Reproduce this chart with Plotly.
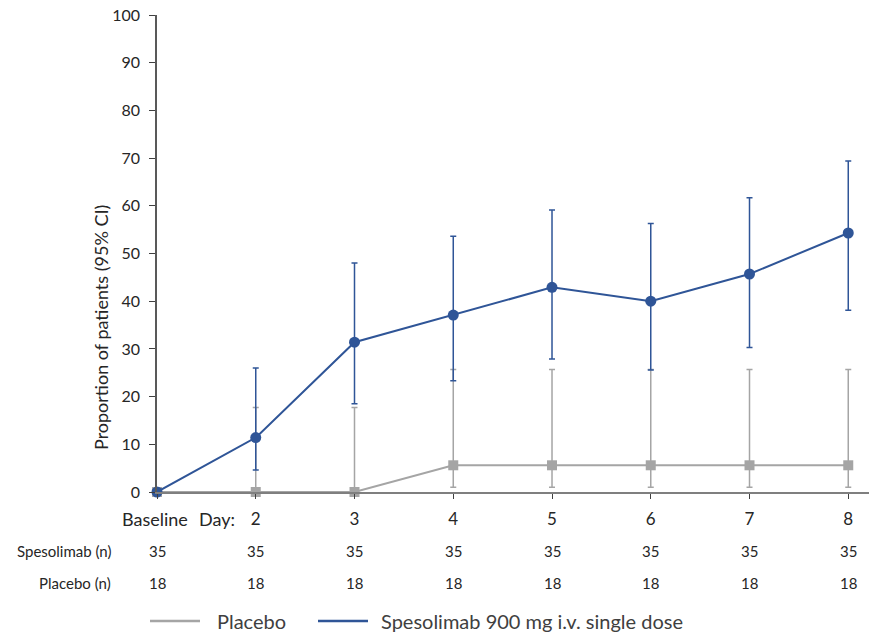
import plotly.graph_objects as go

# ---- data ----
days = [1, 2, 3, 4, 5, 6, 7, 8]          # 1 = Baseline
tick_labels = ["", "2", "3", "4", "5", "6", "7", "8"]

spes_y = [0, 11.4, 31.4, 37.1, 42.9, 40.0, 45.7, 54.3]
spes_hi = [0, 26.0, 48.0, 53.6, 59.1, 56.3, 61.7, 69.4]
spes_lo = [0, 4.6, 18.5, 23.3, 27.9, 25.6, 30.3, 38.1]

plac_y = [0, 0, 0, 5.6, 5.6, 5.6, 5.6, 5.6]
plac_hi = [0, 17.7, 17.7, 25.7, 25.7, 25.7, 25.7, 25.7]
plac_lo = [0, 0, 0, 1.0, 1.0, 1.0, 1.0, 1.0]

spes_n = [35, 35, 35, 35, 35, 35, 35, 35]
plac_n = [18, 18, 18, 18, 18, 18, 18, 18]

series_names = ["Placebo", "Spesolimab 900 mg i.v. single dose"]

BLUE = "#2F5597"
GRAY = "#A5A5A5"
TXT = "#262626"
FONT = "Lato"

W, H = 869, 635
ML, MR, MT, MB = 157, 0, 15, 143
plot_h = H - MT - MB
plot_w = W - ML - MR


def py(pix):
    """pixel y -> paper y"""
    return (H - MB - pix) / plot_h


def px(pix):
    """pixel x -> paper x"""
    return (pix - ML) / plot_w


fig = go.Figure()

fig.add_trace(go.Scatter(
    x=days, y=plac_y, mode="lines+markers", name=series_names[0],
    line=dict(color=GRAY, width=2),
    marker=dict(symbol="square", size=10, color=GRAY),
    error_y=dict(type="data", symmetric=False,
                 array=[h - v for h, v in zip(plac_hi, plac_y)],
                 arrayminus=[v - l for v, l in zip(plac_y, plac_lo)],
                 color=GRAY, thickness=1.5, width=3),
    cliponaxis=False,
))

fig.add_trace(go.Scatter(
    x=days, y=spes_y, mode="lines+markers", name=series_names[1],
    line=dict(color=BLUE, width=2),
    marker=dict(symbol="circle", size=11, color=BLUE),
    error_y=dict(type="data", symmetric=False,
                 array=[h - v for h, v in zip(spes_hi, spes_y)],
                 arrayminus=[v - l for v, l in zip(spes_y, spes_lo)],
                 color=BLUE, thickness=1.5, width=3),
    cliponaxis=False,
))


def ann(text, x, y, size, xanchor="center", xref="paper", angle=0, color=TXT):
    return dict(text=text, xref=xref, yref="paper", x=x, y=y, xanchor=xanchor,
                yanchor="middle", textangle=angle, showarrow=False,
                font=dict(family=FONT, size=size, color=color))


annotations = [
    ann("Proportion of patients (95% CI)", px(101), py(328), 18, angle=-90),
    ann("Baseline", px(155), py(519), 18),
    ann("Day:", px(217), py(519), 18),
    ann("Spesolimab (n)", px(113), py(551), 15, xanchor="right"),
    ann("Placebo (n)", px(113), py(583), 15, xanchor="right"),
]
for d, s, p in zip(days, spes_n, plac_n):
    annotations.append(ann(str(s), d, py(551), 15, xref="x"))
    annotations.append(ann(str(p), d, py(583), 15, xref="x"))

# legend key (drawn as a simple key below the table)
shapes = [
    dict(type="line", xref="paper", yref="paper", x0=px(150), x1=px(200),
         y0=py(621), y1=py(621), line=dict(color=GRAY, width=2.5)),
    dict(type="line", xref="paper", yref="paper", x0=px(318), x1=px(368),
         y0=py(621), y1=py(621), line=dict(color=BLUE, width=2.5)),
]
annotations.append(ann(series_names[0], px(215), py(621), 20, xanchor="left", color="#404040"))
annotations.append(ann(series_names[1], px(379), py(621), 20, xanchor="left", color="#404040"))

fig.update_layout(
    width=W, height=H,
    margin=dict(l=ML, r=MR, t=MT, b=MB),
    plot_bgcolor="white", paper_bgcolor="white",
    font=dict(family=FONT, size=16, color=TXT),
    showlegend=False,
    annotations=annotations,
    shapes=shapes,
    xaxis=dict(range=[1, 8.21], tickvals=days, ticktext=tick_labels,
               showgrid=False, zeroline=False, showline=True, linecolor="#7F7F7F",
               linewidth=1.5, ticks="outside", ticklen=5, tickcolor="#404040",
               tickfont=dict(family=FONT, size=17, color=TXT), ticklabelstandoff=6),
    yaxis=dict(range=[0, 100], dtick=10, showgrid=False, zeroline=False,
               showline=True, linecolor="#595959", linewidth=1.5,
               ticks="outside", ticklen=6, tickcolor="#404040",
               tickfont=dict(family=FONT, size=16, color=TXT), ticklabelstandoff=6),
)

fig.write_html("out.html")
